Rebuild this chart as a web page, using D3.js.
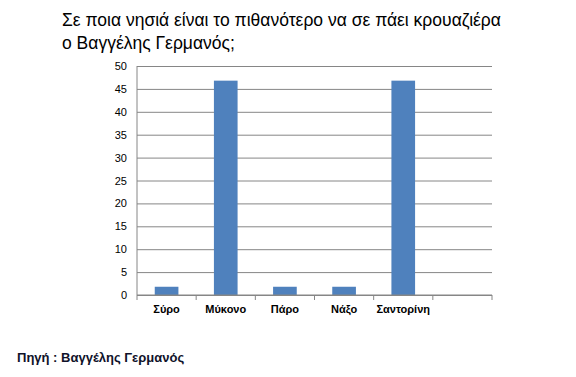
<!DOCTYPE html>
<html>
<head>
<meta charset="utf-8">
<script src="https://cdn.jsdelivr.net/npm/d3@7"></script>
<style>
  body { margin: 0; background: #fff; }
  text { font-family: "Liberation Sans", Arial, sans-serif; }
</style>
</head>
<body>
<div id="chart"></div>
<script>
const width = 576, height = 377,
    margin = ({ top: 66, right: 84, bottom: 82, left: 137 });

// data
const islands = ["Σύρο", "Μύκονο", "Πάρο", "Νάξο", "Σαντορίνη", ""];
const votes = [1.8, 46.8, 1.8, 1.8, 46.8, null];
const yTicks = [0, 5, 10, 15, 20, 25, 30, 35, 40, 45, 50];
const titleLines = ["Σε ποια νησιά είναι το πιθανότερο να σε πάει κρουαζιέρα", "ο Βαγγέλης Γερμανός;"];
const source = "Πηγή : Βαγγέλης Γερμανός";

const svg = d3.select("#chart").append("svg")
    .attr("width", width).attr("height", height)
    .attr("viewBox", [0, 0, width, height]);

const x = d3.scaleBand()
    .domain(islands.map((d, i) => i))
    .range([margin.left, width - margin.right])
    .paddingInner(0.6).paddingOuter(0.3);

const y = d3.scaleLinear()
    .domain([0, 50])
    .range([height - margin.bottom, margin.top]);

// gridlines + y labels
const yAxis = svg.append("g")
    .attr("transform", `translate(${margin.left},0)`)
    .call(d3.axisLeft(y).tickValues(yTicks).tickSize(-(width - margin.left - margin.right)).tickPadding(10));
yAxis.select(".domain").remove();
yAxis.selectAll("line").attr("stroke", "#868686");
yAxis.selectAll("text").attr("font-size", 11).attr("fill", "#000");

// y axis line
svg.append("line")
    .attr("x1", margin.left).attr("x2", margin.left)
    .attr("y1", margin.top).attr("y2", height - margin.bottom)
    .attr("stroke", "#868686");

// bars
svg.append("g")
    .attr("fill", "#4F81BD")
    .selectAll("rect")
    .data(votes.map((v, i) => ({ v, i })).filter(d => d.v != null))
    .join("rect")
    .attr("x", d => x(d.i))
    .attr("width", x.bandwidth())
    .attr("y", d => y(d.v))
    .attr("height", d => y(0) - y(d.v));

// x axis with ticks between categories
const bounds = d3.range(islands.length + 1).map(i => margin.left + i * (width - margin.left - margin.right) / islands.length);
const xg = svg.append("g");
xg.append("line")
    .attr("x1", margin.left).attr("x2", width - margin.right)
    .attr("y1", y(0)).attr("y2", y(0))
    .attr("stroke", "#868686");
xg.selectAll(".tk").data(bounds).join("line")
    .attr("x1", d => d).attr("x2", d => d)
    .attr("y1", y(0)).attr("y2", y(0) + 5)
    .attr("stroke", "#868686");
xg.selectAll(".lbl").data(islands).join("text")
    .attr("x", (d, i) => x(i) + x.bandwidth() / 2)
    .attr("y", y(0) + 18)
    .attr("text-anchor", "middle")
    .attr("font-size", 11)
    .attr("font-weight", "bold")
    .text(d => d);

// title
svg.append("g").selectAll("text").data(titleLines).join("text")
    .attr("x", 62)
    .attr("y", (d, i) => 26 + i * 23)
    .attr("font-size", 17.5)
    .attr("fill", "#000")
    .text(d => d);

// source
svg.append("text")
    .attr("x", 17).attr("y", 362)
    .attr("font-size", 13)
    .attr("font-weight", "bold")
    .attr("fill", "#10122a")
    .text(source);
</script>
</body>
</html>
